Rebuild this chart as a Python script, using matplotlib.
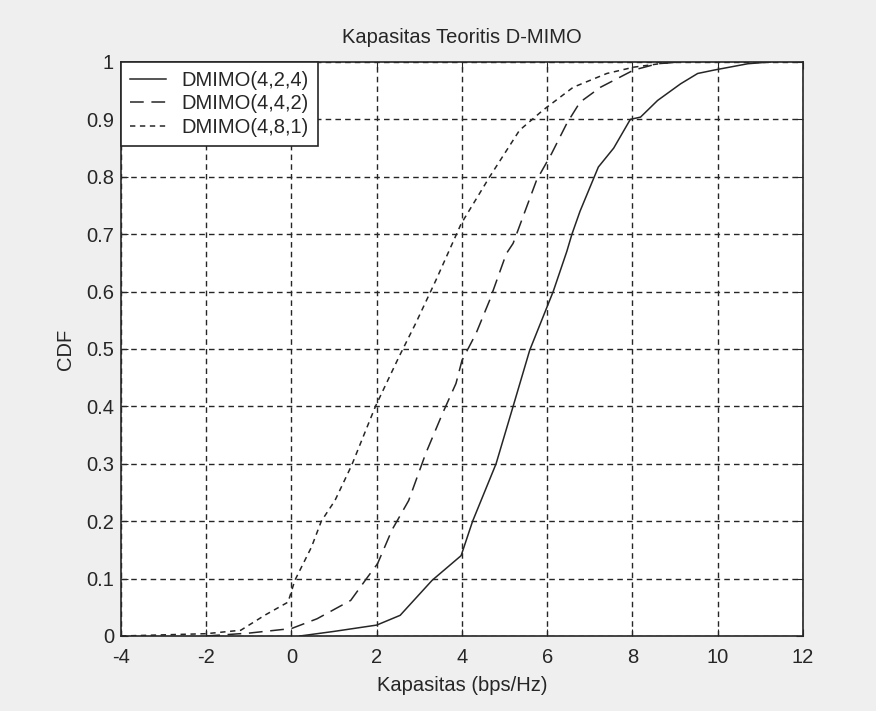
import matplotlib
matplotlib.use('Agg')
import matplotlib.pyplot as plt

# CDF curves of theoretical D-MIMO capacity (bps/Hz)
cap_424 = [0.2, 1.0, 2.0, 2.55, 3.3, 3.98, 4.25, 4.8, 5.2, 5.59, 6.14, 6.46, 6.58, 6.77, 7.2, 7.56,
           7.95, 8.19, 8.59, 9.13, 9.53, 9.92, 10.71, 11.23]
cdf_424 = [0.0, 0.008, 0.019, 0.036, 0.097, 0.14, 0.2, 0.3, 0.4, 0.498, 0.6, 0.67, 0.70, 0.74, 0.817, 0.85,
           0.9, 0.904, 0.933, 0.962, 0.98, 0.986, 0.997, 1.0]

cap_442 = [-2.0, -1.0, 0.0, 0.6, 1.39, 1.79, 2.02, 2.36, 2.75, 3.15, 3.54, 3.86, 4.0, 4.33, 4.65, 5.04,
           5.2, 5.43, 5.75, 6.1, 6.46, 6.77, 7.25, 8.03, 8.59, 9.1]
cdf_442 = [0.0, 0.005, 0.013, 0.03, 0.062, 0.103, 0.126, 0.185, 0.236, 0.318, 0.387, 0.44, 0.48, 0.527,
           0.585, 0.666, 0.684, 0.73, 0.794, 0.84, 0.893, 0.93, 0.956, 0.986, 0.997, 1.0]

cap_481 = [-4.0, -2.0, -1.19, -0.63, -0.08, 0.08, 0.47, 0.70, 1.02, 1.41, 1.97, 2.52, 2.91, 3.39, 3.98,
           4.65, 5.35, 5.9, 6.61, 7.4, 8.03, 8.74, 9.1]
cdf_481 = [0.0, 0.004, 0.01, 0.036, 0.059, 0.097, 0.155, 0.2, 0.236, 0.297, 0.4, 0.486, 0.544, 0.62, 0.718,
           0.8, 0.881, 0.916, 0.956, 0.98, 0.991, 0.998, 1.0]

labels = ['DMIMO(4,2,4)', 'DMIMO(4,4,2)', 'DMIMO(4,8,1)']
xticks = [-4, -2, 0, 2, 4, 6, 8, 10, 12]
yticks = [0, 0.1, 0.2, 0.3, 0.4, 0.5, 0.6, 0.7, 0.8, 0.9, 1]

plt.rcParams['font.family'] = ['Liberation Sans', 'DejaVu Sans']

fig = plt.figure(figsize=(8.76, 7.11), dpi=100, facecolor='#efefef')
ax = fig.add_axes([0.1381, 0.1055, 0.7785, 0.8073])
ax.set_facecolor('white')

ink = '#262626'
ax.plot(cap_424, cdf_424, color=ink, lw=1.1, linestyle='-', label=labels[0])
ax.plot(cap_442, cdf_442, color=ink, lw=1.1, linestyle=(0, (9, 5)), label=labels[1])
ax.plot(cap_481, cdf_481, color=ink, lw=1.1, linestyle=(0, (3.5, 3)), label=labels[2])

ax.set_xlim(-4, 12)
ax.set_ylim(0, 1)
ax.set_xticks(xticks)
ax.set_yticks(yticks)
ax.set_xticklabels([str(t) for t in xticks])
ax.set_yticklabels(['0' if t == 0 else ('1' if t == 1 else '%.1f' % t) for t in yticks])
ax.tick_params(direction='in', top=True, right=True, length=5, color=ink, labelsize=14.5, labelcolor=ink)
ax.tick_params(axis='x', pad=9)
ax.tick_params(axis='y', pad=5)
ax.grid(True, color=ink, linestyle=(0, (4, 3)), lw=1.0)
for s in ax.spines.values():
    s.set_color(ink)
    s.set_linewidth(1.2)

ax.set_title('Kapasitas Teoritis D-MIMO', fontsize=14.5, color=ink, pad=14)
ax.set_xlabel('Kapasitas (bps/Hz)', fontsize=14.5, color=ink, labelpad=6)
ax.set_ylabel('CDF', fontsize=14.5, color=ink, labelpad=8)

leg = ax.legend(loc='upper left', fontsize=14.5, fancybox=False, framealpha=1, edgecolor=ink,
                borderaxespad=0, handlelength=1.8, handletextpad=0.75, borderpad=0.45,
                labelspacing=0.22)
leg.get_frame().set_linewidth(1.2)
for t in leg.get_texts():
    t.set_color(ink)

fig.savefig('out.png', dpi=100, facecolor=fig.get_facecolor())
